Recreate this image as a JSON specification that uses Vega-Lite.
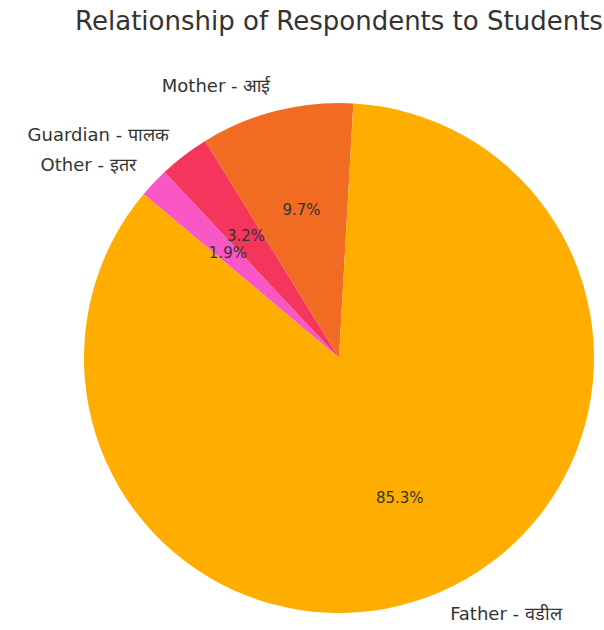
{
  "$schema": "https://vega.github.io/schema/vega-lite/v6.json",
  "autosize": {"type": "none"},
  "width": 510,
  "height": 510,
  "padding": {"left": 84, "top": 103, "right": 10, "bottom": 17},
  "background": "white",
  "title": {
    "text": "Relationship of Respondents to Students",
    "font": "DejaVu Sans",
    "fontSize": 26,
    "fontWeight": "normal",
    "color": "#333333",
    "anchor": "middle",
    "offset": 43
  },
  "data": {
    "values": [
      {"cat": "Other - इतर", "pct": 1.9, "label": "1.9%", "rank": 1, "side": "left"},
      {"cat": "Guardian - पालक", "pct": 3.2, "label": "3.2%", "rank": 2, "side": "left"},
      {"cat": "Mother - आई", "pct": 9.7, "label": "9.7%", "rank": 3, "side": "left"},
      {"cat": "Father - वडील", "pct": 85.3, "label": "85.3%", "rank": 4, "side": "right"}
    ]
  },
  "encoding": {
    "theta": {
      "field": "pct",
      "type": "quantitative",
      "stack": true,
      "scale": {"domain": [0, 100.1], "range": [-0.87266, 5.41052]}
    },
    "order": {"field": "rank", "type": "quantitative"}
  },
  "layer": [
    {
      "mark": {"type": "arc", "stroke": null},
      "encoding": {
        "color": {
          "field": "cat",
          "type": "nominal",
          "legend": null,
          "scale": {
            "domain": ["Other - इतर", "Guardian - पालक", "Mother - आई", "Father - वडील"],
            "range": ["#F957C6", "#F5365C", "#F26B22", "#FFAE00"]
          }
        }
      }
    },
    {
      "mark": {"type": "text", "radius": 153, "font": "DejaVu Sans", "fontSize": 15, "color": "#333333", "align": "center", "baseline": "middle"},
      "encoding": {
        "detail": {"field": "cat"},
        "text": {"field": "label"}
      }
    },
    {
      "mark": {"type": "text", "radius": 280, "font": "DejaVu Sans", "fontSize": 18, "color": "#333333", "align": "right", "baseline": "middle"},
      "encoding": {
        "detail": {"field": "cat"},
        "text": {"condition": {"test": "datum.side === 'left'", "field": "cat"}, "value": ""}
      }
    },
    {
      "mark": {"type": "text", "radius": 280, "font": "DejaVu Sans", "fontSize": 18, "color": "#333333", "align": "left", "baseline": "middle"},
      "encoding": {
        "detail": {"field": "cat"},
        "text": {"condition": {"test": "datum.side === 'right'", "field": "cat"}, "value": ""}
      }
    }
  ]
}
